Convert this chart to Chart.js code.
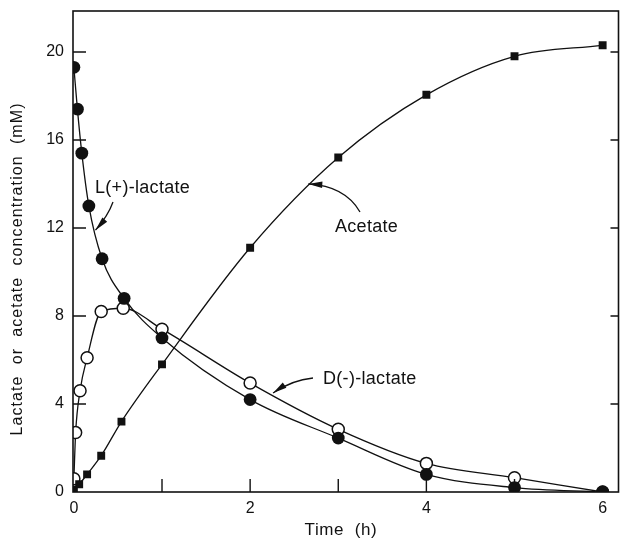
<!DOCTYPE html>
<html>
<head>
<meta charset="utf-8">
<script src="https://cdn.jsdelivr.net/npm/chart.js@4"></script>
<style>
  body { margin: 0; background: #fff; }
  #wrap { width: 626px; height: 540px; }
</style>
</head>
<body>
<div id="wrap"><canvas id="chart"></canvas></div>
<script>
// values
const lTime = [0, 0.04, 0.09, 0.17, 0.32, 0.57, 1, 2, 3, 4, 5, 6];
const lLactate = [19.3, 17.4, 15.4, 13.0, 10.6, 8.8, 7.0, 4.2, 2.45, 0.8, 0.2, 0];

const dTime = [0, 0.02, 0.07, 0.15, 0.31, 0.56, 1, 2, 3, 4, 5, 6];
const dLactate = [0.6, 2.7, 4.6, 6.1, 8.2, 8.35, 7.4, 4.95, 2.85, 1.3, 0.65, 0];

const aTime = [0, 0.06, 0.15, 0.31, 0.54, 1, 2, 3, 4, 5, 6];
const acetate = [0.1, 0.35, 0.8, 1.65, 3.2, 5.8, 11.1, 15.2, 18.05, 19.8, 20.3];

const xTicks = [0, 1, 2, 3, 4, 5, 6];
const yTicks = [0, 4, 8, 12, 16, 20];

const family = '"Liberation Sans", Arial, sans-serif';
const font = { family: family, size: 16 };
const ink = '#111';

function toPoints(xs, ys) {
    return xs.map((x, i) => ({ x: x, y: ys[i] }));
}

function noPad(s) {
    s.paddingTop = 0; s.paddingBottom = 0;
    s.paddingLeft = 0; s.paddingRight = 0;
}

// box, inward ticks, axis titles and labelled arrows
const decor = {
    id: 'decor',
    afterDatasetsDraw(chart) {
        const { ctx, chartArea: a, scales } = chart;
        const sx = scales.x, sy = scales.y;
        ctx.save();
        ctx.strokeStyle = ink;
        ctx.fillStyle = ink;
        ctx.lineWidth = 1.6;
        ctx.strokeRect(a.left, a.top, a.right - a.left, a.bottom - a.top);

        ctx.lineWidth = 1.4;
        ctx.beginPath();
        yTicks.slice(1).forEach(v => {
            const y = sy.getPixelForValue(v);
            ctx.moveTo(a.left, y); ctx.lineTo(a.left + 13, y);
            ctx.moveTo(a.right, y); ctx.lineTo(a.right - 8, y);
        });
        xTicks.slice(1, -1).forEach(v => {
            const x = sx.getPixelForValue(v);
            ctx.moveTo(x, a.bottom); ctx.lineTo(x, a.bottom - 13);
        });
        ctx.stroke();

        // axis titles
        ctx.textAlign = 'center';
        ctx.textBaseline = 'middle';
        ctx.font = '17px ' + family;
        ctx.letterSpacing = '0.6px';
        ctx.fillText('Time  (h)', 341, 530);
        ctx.save();
        ctx.translate(18, 269);
        ctx.rotate(-Math.PI / 2);
        ctx.font = '16px ' + family;
        ctx.letterSpacing = '1.1px';
        ctx.fillText('Lactate  or  acetate  concentration  (mM)', 0, 0);
        ctx.restore();

        // arrow: from (fx,fy) curving via (cx,cy) to tip at data point (tx,ty)
        function arrow(fx, fy, cx, cy, tx, ty) {
            const tipX = sx.getPixelForValue(tx), tipY = sy.getPixelForValue(ty);
            ctx.lineWidth = 1.3;
            ctx.beginPath();
            ctx.moveTo(fx, fy);
            ctx.quadraticCurveTo(cx, cy, tipX, tipY);
            ctx.stroke();
            const ang = Math.atan2(tipY - cy, tipX - cx);
            const len = 14, half = 3.2;
            ctx.beginPath();
            ctx.moveTo(tipX, tipY);
            ctx.lineTo(tipX - len * Math.cos(ang) + half * Math.sin(ang), tipY - len * Math.sin(ang) - half * Math.cos(ang));
            ctx.lineTo(tipX - len * Math.cos(ang) - half * Math.sin(ang), tipY - len * Math.sin(ang) + half * Math.cos(ang));
            ctx.closePath();
            ctx.fill();
        }
        ctx.textAlign = 'left';
        ctx.font = '18px ' + family;
        ctx.letterSpacing = '0.3px';
        ctx.fillText('L(+)-lactate', 95, 188);
        arrow(113, 202, 108, 216, 0.245, 11.9);
        ctx.fillText('Acetate', 335, 227);
        arrow(360, 212, 345, 186, 2.66, 14.0);
        ctx.fillText('D(-)-lactate', 323, 379);
        arrow(313, 378, 292, 380, 2.26, 4.5);
        ctx.restore();
    }
};

new Chart(document.getElementById('chart'), {
    type: 'scatter',
    data: {
        datasets: [
            {
                label: 'Acetate',
                data: toPoints(aTime, acetate),
                showLine: true,
                pointStyle: 'rect',
                pointRadius: 5.6,
                backgroundColor: ink,
                borderColor: ink,
                borderWidth: 1.3,
                pointBorderWidth: 0,
                cubicInterpolationMode: 'monotone'
            },
            {
                label: 'L(+)-lactate',
                data: toPoints(lTime, lLactate),
                showLine: true,
                pointStyle: 'circle',
                pointRadius: 6.4,
                backgroundColor: ink,
                borderColor: ink,
                borderWidth: 1.3,
                pointBorderWidth: 0,
                cubicInterpolationMode: 'monotone'
            },
            {
                label: 'D(-)-lactate',
                data: toPoints(dTime, dLactate),
                showLine: true,
                pointStyle: 'circle',
                pointRadius: 6,
                backgroundColor: '#fff',
                pointBackgroundColor: '#fff',
                borderColor: ink,
                borderWidth: 1.3,
                pointBorderWidth: 1.5,
                cubicInterpolationMode: 'monotone'
            }
        ]
    },
    options: {
        responsive: true,
        maintainAspectRatio: false,
        animation: false,
        layout: { padding: { top: 11, right: 1 } },
        plugins: { legend: { display: false }, tooltip: { enabled: false } },
        scales: {
            x: {
                type: 'linear',
                min: -0.01,
                max: 6.18,
                afterFit: s => { s.height = 48; noPad(s); },
                afterBuildTicks: s => { s.ticks = xTicks.map(v => ({ value: v })); },
                grid: { display: false, drawTicks: false },
                border: { display: false },
                ticks: {
                    padding: 7,
                    color: ink,
                    font: font,
                    maxRotation: 0,
                    callback: v => (v % 2 === 0 ? v : '')
                }
            },
            y: {
                min: 0,
                max: 21.86,
                afterFit: s => { s.width = 73; noPad(s); },
                afterBuildTicks: s => { s.ticks = yTicks.map(v => ({ value: v })); },
                grid: { display: false, drawTicks: false },
                border: { display: false },
                ticks: { padding: 9, color: ink, font: font }
            }
        }
    },
    plugins: [decor]
});
</script>
</body>
</html>
